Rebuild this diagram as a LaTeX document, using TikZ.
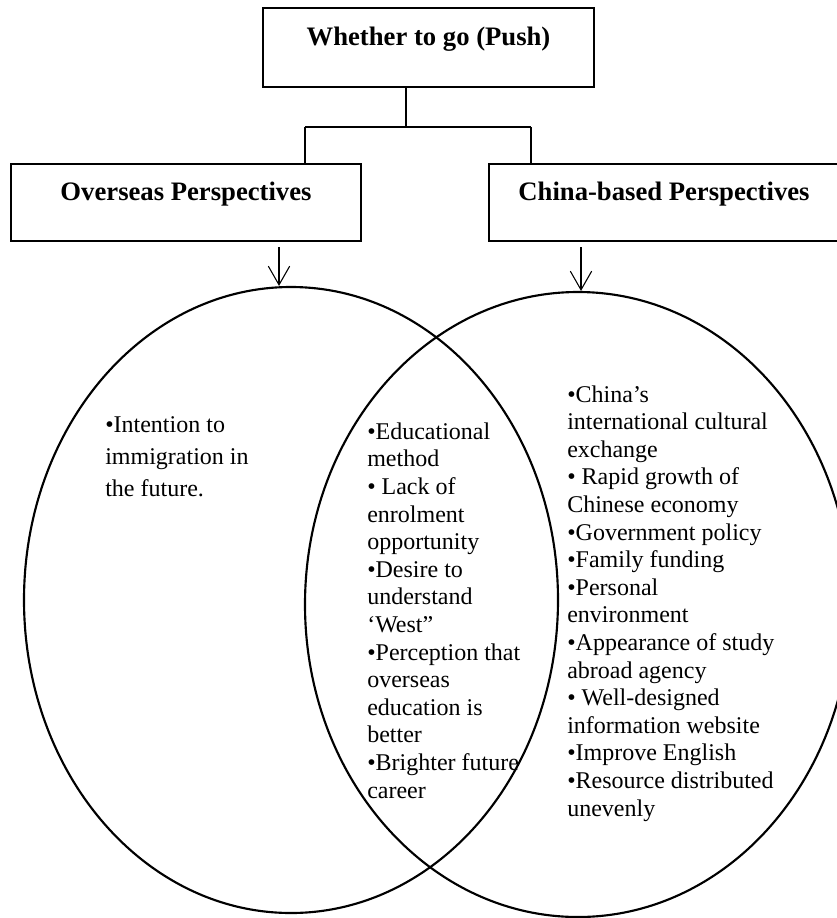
\documentclass[tikz,border=0pt]{standalone}
\usepackage{fontspec}
\setmainfont{Liberation Serif}
\usetikzlibrary{shapes.geometric,arrows.meta}
\begin{document}
\begin{tikzpicture}[x=0.75pt,y=-0.75pt,
  box/.style={draw,line width=1.3pt,inner sep=0pt,anchor=base,font=\fontsize{20}{24}\selectfont\bfseries},
  oval/.style={draw,ellipse,line width=1.6pt,inner sep=0pt},
  conn/.style={line width=0.8pt},
  arr/.style={line width=0.8pt,-{Straight Barb[length=14pt,width=16pt]}},
  body/.style={inner sep=0pt,align=left,anchor=base west,font=\fontsize{18}{20.7}\selectfont}]
\useasboundingbox (0,0) rectangle (837,918);
\clip (0,0) rectangle (837,918);
\node[box,minimum width=248.25pt,text height=27.75pt,text depth=31.5pt] (top) at (428.5,45) {Whether to go (Push)};
\node[box,minimum width=262.5pt,text height=27pt,text depth=30.75pt] (lb) at (186,200) {Overseas Perspectives};
\node[box,minimum width=262.5pt,text height=27pt,text depth=30.75pt] (rb) at (664,200) {China-based Perspectives};
\node[oval,minimum width=400.5pt,minimum height=469.5pt] (le) at (291,600) {};
\node[oval,minimum width=409.5pt,minimum height=468.75pt] (re) at (578,604.5) {};
\coordinate (j) at (406,127);
\coordinate (jl) at (305,127);
\coordinate (jr) at (531,127);
\coordinate (a1) at (279,247);
\coordinate (a2) at (581,247);
\draw[conn] (top.south -| j) -- (j);
\draw[conn] (jl) -- (jr);
\draw[conn] (jl) -- (jl |- lb.north);
\draw[conn] (jr) -- (jr |- rb.north);
\draw[arr] (a1) -- (a1 |- le.north);
\draw[arr] (a2) -- (a2 |- re.north);
% base anchor = baseline of the last line
\node[body,font=\fontsize{18}{23.8}\selectfont] (t1) at (105,496) {•Intention to\\immigration in\\the future.};
\node[body] (t2) at (367,798) {•Educational\\method\\• Lack of\\enrolment\\opportunity\\•Desire to\\understand\\‘West”\\•Perception that\\overseas\\education is\\better\\•Brighter future\\career};
\node[body] (t3) at (567,816) {•China’s\\international cultural\\exchange\\• Rapid growth of\\Chinese economy\\•Government policy\\•Family funding\\•Personal\\environment\\•Appearance of study\\abroad agency\\• Well-designed\\information website\\•Improve English\\•Resource distributed\\unevenly};
\end{tikzpicture}
\end{document}
